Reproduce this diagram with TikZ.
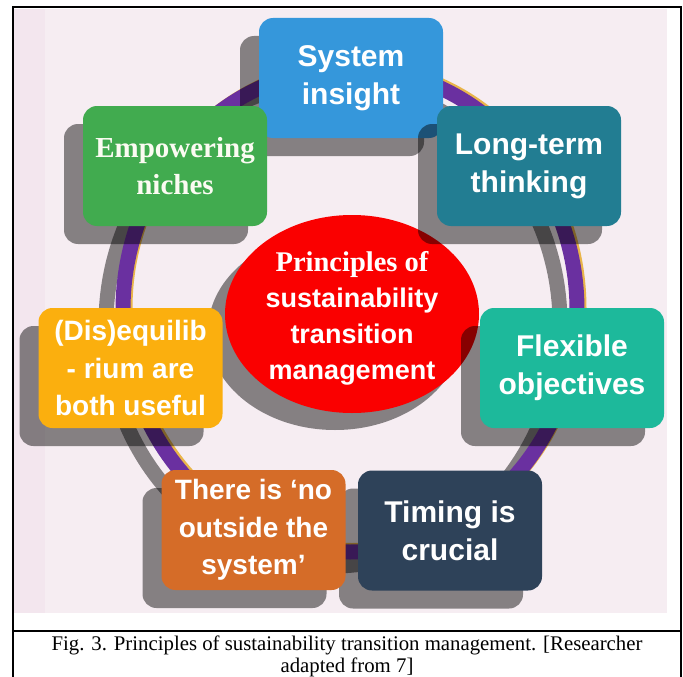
\documentclass[tikz,border=0pt]{standalone}
\usepackage{fontspec}
\setmainfont{Liberation Serif}
\newfontfamily\labelsans{Liberation Sans}
\usetikzlibrary{shapes.geometric,shadows}

\definecolor{panelpink}{HTML}{F6EDF2}
\definecolor{panelstrip}{HTML}{F3E6EE}
\definecolor{ringpurple}{HTML}{6A30A0}
\definecolor{ringgold}{HTML}{E9B54A}
\definecolor{corered}{HTML}{FA0000}
\definecolor{insightblue}{HTML}{3597DB}
\definecolor{termteal}{HTML}{227D92}
\definecolor{nichegreen}{HTML}{41AB4F}
\definecolor{equiamber}{HTML}{FBAF0E}
\definecolor{flexteal}{HTML}{1DB99B}
\definecolor{systemorange}{HTML}{D56C28}
\definecolor{timingnavy}{HTML}{2E4259}
\definecolor{creamwhite}{HTML}{FBFBF2}

\tikzset{
  principle/.style={
    rounded corners=14pt, minimum width=184pt, minimum height=120pt,
    inner sep=0pt, align=center, text=white,
    font=\labelsans\bfseries\fontsize{30}{38}\selectfont,
    general shadow={fill=black, fill opacity=0.46,
      shadow xshift=-19pt, shadow yshift=-18pt}},
  smalltext/.style={font=\labelsans\bfseries\fontsize{28}{37.5}\selectfont},
  serifbold/.style={font=\rmfamily\bfseries\fontsize{29}{37}\selectfont, text=creamwhite},
  caption/.style={font=\rmfamily\fontsize{20.8}{23}\selectfont, inner sep=0pt},
  frame/.style={line width=2pt, black},
}

\begin{document}
\begin{tikzpicture}[x=1pt,y=-1pt]
\useasboundingbox (0,0) rectangle (683,677);

% panel background
\fill[panelpink] (13,9) rectangle (667,613);
\fill[panelstrip] (13,9) rectangle (45,613);

% ring with its shadow and thin gold edge
\draw[line width=15pt, black, opacity=0.46] (333,324) ellipse [x radius=227, y radius=242];
\draw[line width=15pt, ringgold] (352,308.5) ellipse [x radius=227, y radius=242];
\draw[line width=15pt, ringpurple] (350,310) ellipse [x radius=227, y radius=242];

% central ellipse with its shadow
\fill[black, opacity=0.46] (335,331) ellipse [x radius=127, y radius=99];
\node[ellipse, fill=corered, minimum width=254pt, minimum height=198pt, inner sep=0pt] (core) at (352,314) {};
\node[align=center, text=white, font=\labelsans\bfseries\fontsize{27}{36}\selectfont] (coretext) at (352,318)
  {{\rmfamily\fontsize{28.5}{36}\selectfont Principles of}\\sustainability\\transition\\management};

% principle boxes
\node[principle, fill=insightblue] (insight) at (351,78) {System\\insight};
\node[principle, fill=nichegreen, serifbold] (niches) at (175,166) {Empowering\\niches};
\node[principle, fill=termteal] (longterm) at (529,166) {Long-term\\thinking};
\node[principle, fill=flexteal] (flexible) at (572,368) {Flexible\\objectives};
\node[principle, fill=timingnavy] (timing) at (450,530.5) {Timing is\\crucial};
\node[principle, fill=systemorange, smalltext] (outside) at (253.5,530) {There is ‘no\\outside the\\system’};
\node[principle, fill=equiamber, smalltext] (equilib) at (130.5,368) {(Dis)equilib\\- rium are\\both useful};

% frame and caption
\draw[frame] (12.7,677) -- (12.7,7) -- (681,7) -- (681,677);
\draw[frame] (12.7,631) -- (681,631);
\node[caption] (cap1) at (347,645) {Fig. 3. Principles of sustainability transition management. [Researcher};
\node[caption] (cap2) at (347,667) {adapted from 7]};
\end{tikzpicture}
\end{document}
